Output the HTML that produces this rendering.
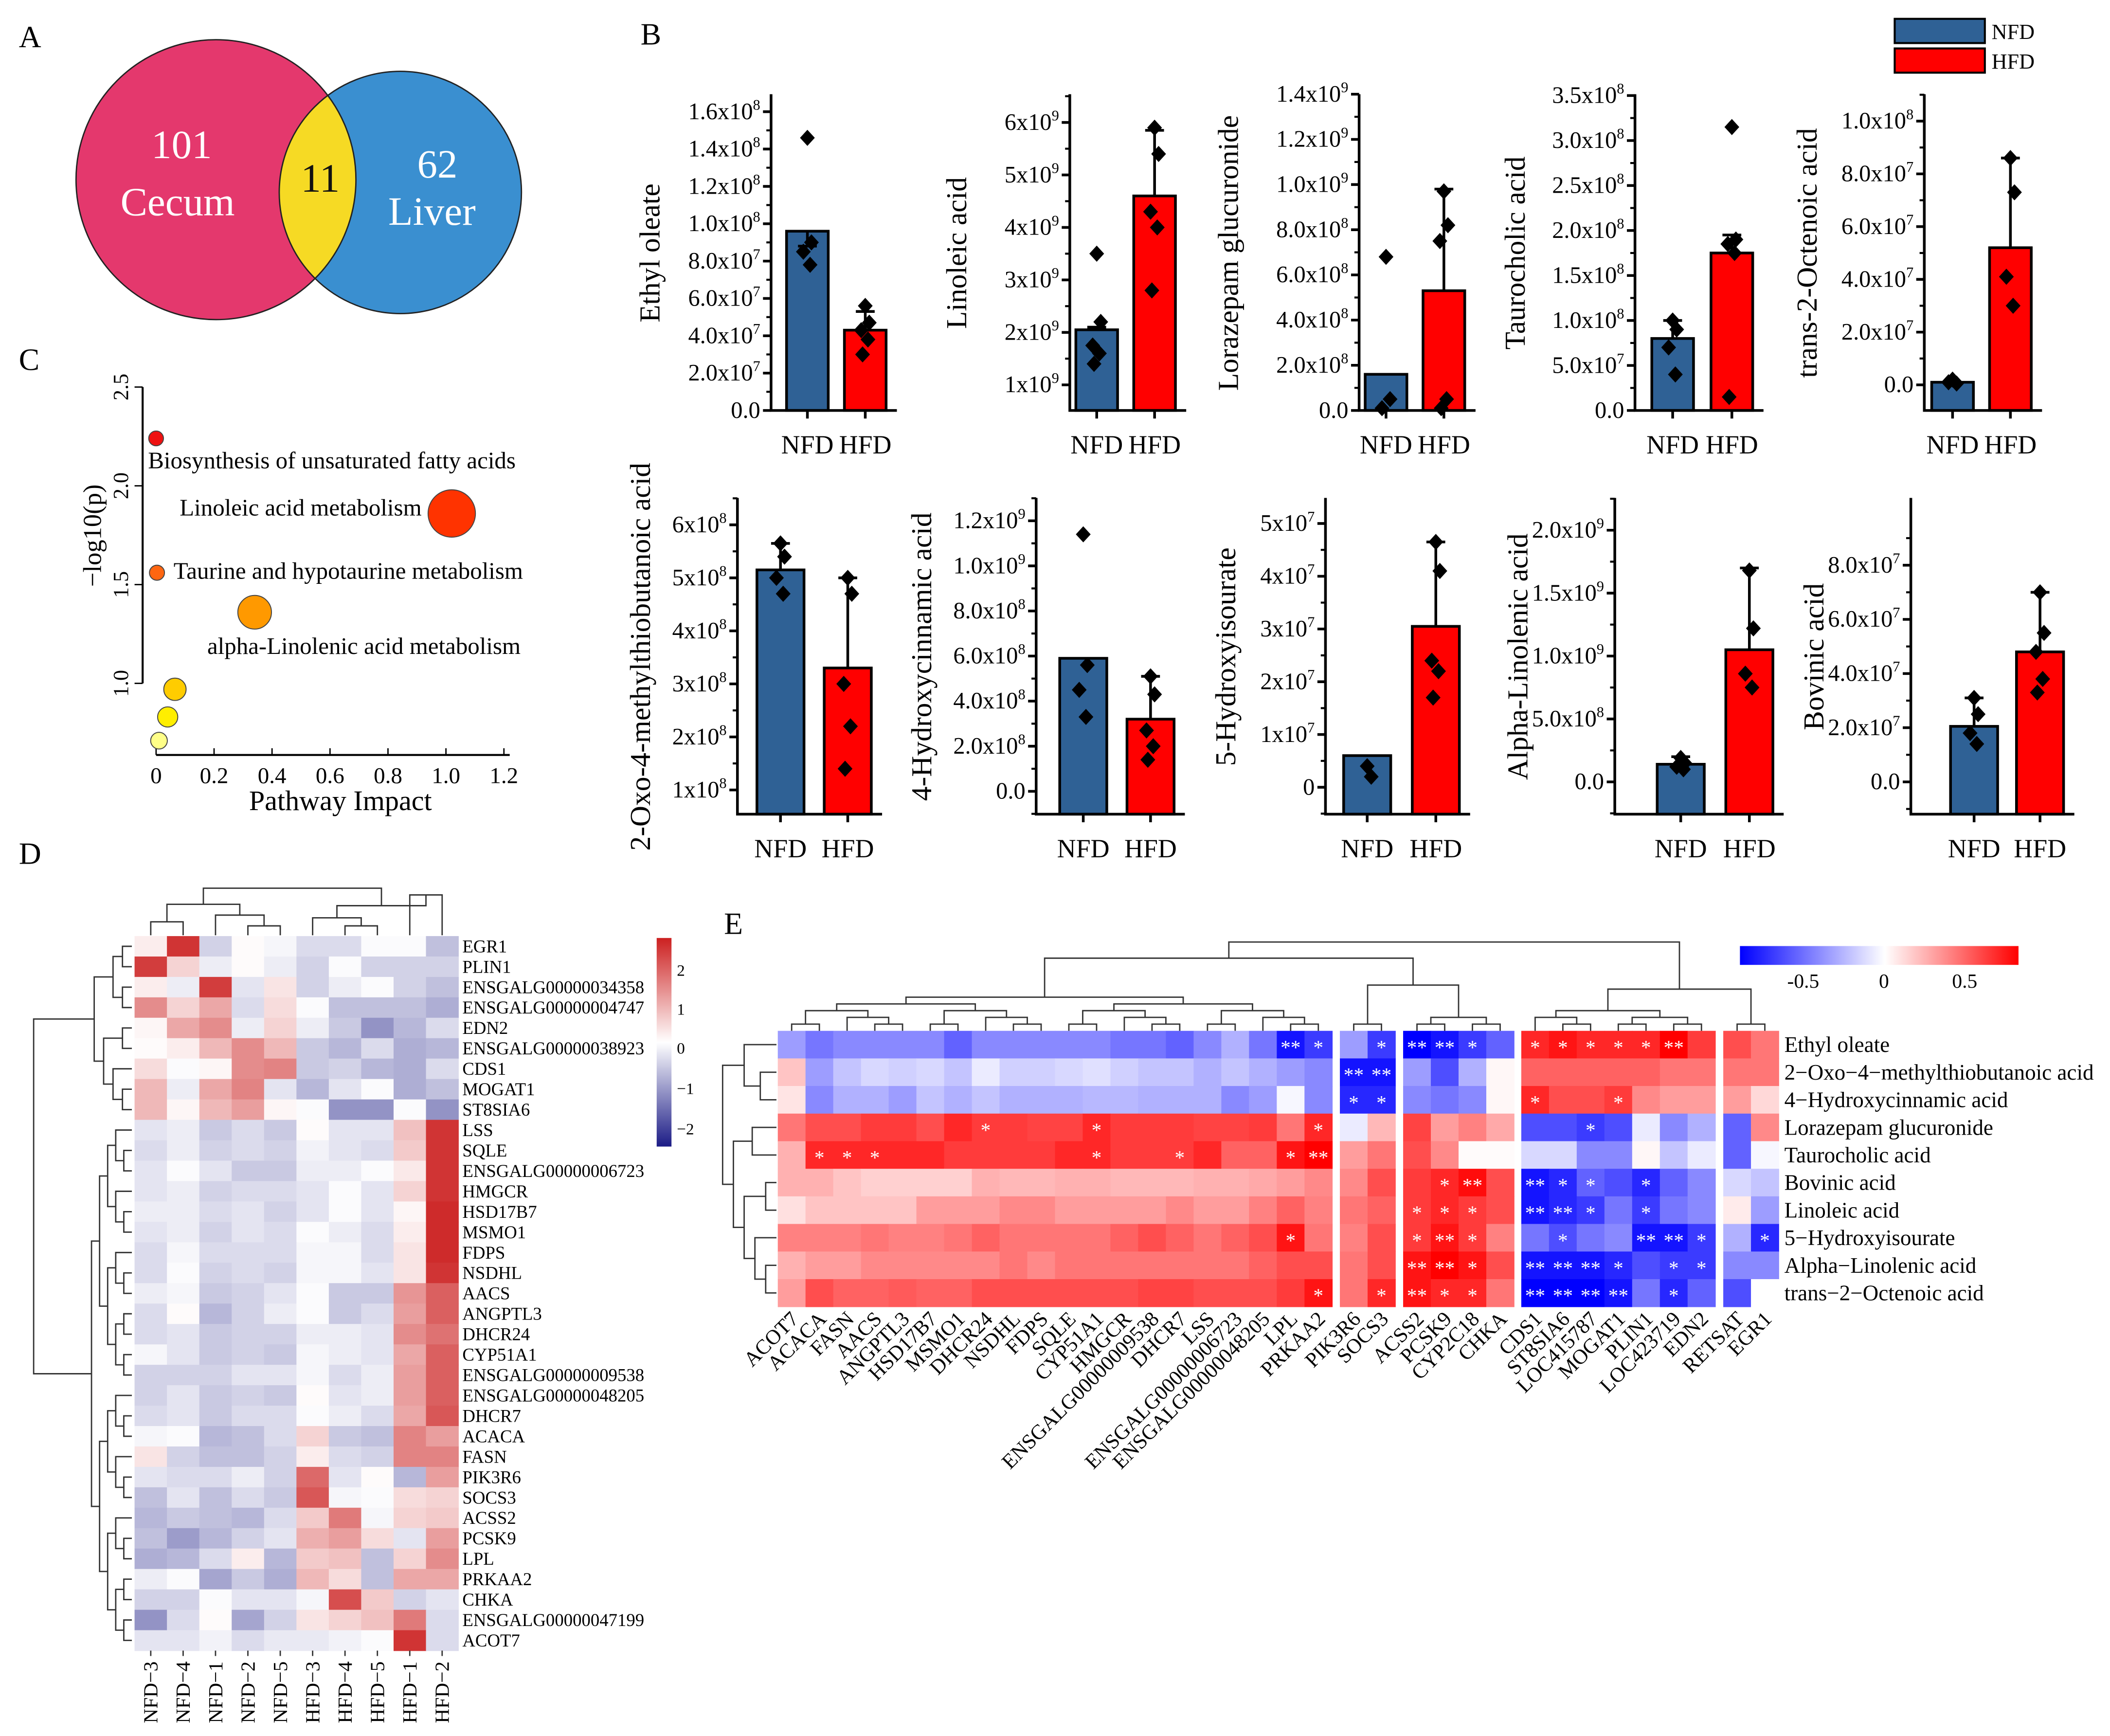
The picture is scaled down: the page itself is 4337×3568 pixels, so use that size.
<!DOCTYPE html>
<html><head><meta charset="utf-8">
<style>
body{margin:0;background:#fff}
svg{display:block}
text{font-family:"Liberation Serif",serif;fill:#000}
</style></head>
<body>
<svg id="fig" width="4337" height="3568" viewBox="0 0 1568 1290" preserveAspectRatio="none" xmlns="http://www.w3.org/2000/svg">
<defs>
<clipPath id="clipRed"><circle cx="160.5" cy="133.5" r="104"/></clipPath>
<linearGradient id="gradD" x1="0" y1="1" x2="0" y2="0">
<stop offset="0" stop-color="#1c1c86"/><stop offset="0.5" stop-color="#ffffff"/><stop offset="1" stop-color="#cc2020"/>
</linearGradient>
<linearGradient id="gradE" x1="0" y1="0" x2="1" y2="0">
<stop offset="0" stop-color="#0000ff"/><stop offset="0.52" stop-color="#ffffff"/><stop offset="1" stop-color="#ff0000"/>
</linearGradient>
</defs>
<rect x="0" y="0" width="1568" height="1290" fill="#fff"/>
<text x="14" y="35" font-size="23">A</text>
<text x="476" y="33" font-size="23">B</text>
<text x="14" y="275" font-size="23">C</text>
<text x="14" y="642" font-size="23">D</text>
<text x="538" y="694" font-size="23">E</text>
<g>
<circle cx="160.5" cy="133.5" r="104" fill="#e4386d"/>
<circle cx="297.5" cy="143" r="90" fill="#3a8fd0"/>
<circle cx="297.5" cy="143" r="90" fill="#f6da24" clip-path="url(#clipRed)"/>
<circle cx="160.5" cy="133.5" r="104" fill="none" stroke="#222" stroke-width="1"/>
<circle cx="297.5" cy="143" r="90" fill="none" stroke="#222" stroke-width="1"/>
<text x="135" y="117.5" font-size="30" text-anchor="middle" style="fill:#fff">101</text>
<text x="132" y="160" font-size="30" text-anchor="middle" style="fill:#fff">Cecum</text>
<text x="238" y="142.5" font-size="30" text-anchor="middle" style="fill:#111">11</text>
<text x="325" y="132" font-size="30" text-anchor="middle" style="fill:#fff">62</text>
<text x="321" y="167" font-size="30" text-anchor="middle" style="fill:#fff">Liver</text>
</g>
<g>
<rect x="1408" y="14" width="67" height="18" fill="#2f6195" stroke="#000" stroke-width="1.5"/>
<text x="1480" y="29" font-size="16">NFD</text>
<rect x="1408" y="36" width="67" height="18" fill="#ff0000" stroke="#000" stroke-width="1.5"/>
<text x="1480" y="51" font-size="16">HFD</text>
</g>
<g id="panelC">
<text x="110" y="348" font-size="17.7">Biosynthesis of unsaturated fatty acids</text>
<text x="133.5" y="383" font-size="17.7">Linoleic acid metabolism</text>
<text x="129" y="430" font-size="17.7">Taurine and hypotaurine metabolism</text>
<text x="154" y="486" font-size="17.7">alpha-Linolenic acid metabolism</text>
<text x="253" y="602" font-size="21" text-anchor="middle">Pathway Impact</text>
<text x="0" y="0" font-size="19" text-anchor="middle" transform="translate(75,398) rotate(-90)">−log10(p)</text>
</g>
<g id="panelB"></g>
<g id="panelD">
<rect x="488" y="697" width="11" height="155" fill="url(#gradD)"/>
<text x="503" y="725" font-size="12">2</text>
<text x="503" y="754" font-size="12">1</text>
<text x="503" y="783" font-size="12">0</text>
<text x="503" y="813" font-size="12">−1</text>
<text x="503" y="843" font-size="12">−2</text>
</g>
<g id="panelE">
<rect x="1293" y="703" width="207" height="14" fill="url(#gradE)"/>
<text x="1340" y="734" font-size="15" text-anchor="middle">-0.5</text>
<text x="1400" y="734" font-size="15" text-anchor="middle">0</text>
<text x="1460" y="734" font-size="15" text-anchor="middle">0.5</text>
</g>
</svg>
<script>
// ===== Panel B data =====
const metabNames = ["Ethyl oleate","Linoleic acid","Lorazepam glucuronide","Taurocholic acid","trans-2-Octenoic acid","2-Oxo-4-methylthiobutanoic acid","4-Hydroxycinnamic acid","5-Hydroxyisourate","Alpha-Linolenic acid","Bovinic acid"];
const groupLabels = ["NFD","HFD"];
const nfdMean = [9.6e7,2.05e9,1.6e8,8.0e7,0.1e7,5.15e8,5.9e8,0.6e7,1.4e8,2.05e7];
const hfdMean = [4.3e7,4.6e9,5.3e8,1.75e8,5.2e7,3.3e8,3.2e8,3.05e7,1.05e9,4.8e7];
const nfdErrEnd = [8.8e7,2.1e9,1.6e8,1.0e8,0.1e7,5.65e8,5.9e8,0.6e7,2.0e8,3.1e7];
const hfdErrEnd = [5.3e7,5.85e9,9.8e8,1.95e8,8.6e7,5.0e8,5.1e8,4.65e7,1.7e9,7.0e7];
const nfdPts = [[1.46e8,9.0e7,8.5e7,7.8e7],[3.5e9,2.2e9,1.75e9,1.6e9,1.4e9],[6.8e8,5e7,1e7],[1.0e8,9e7,7e7,4e7],[0.2e7,0.05e7,0.1e7],[5.65e8,5.4e8,5.0e8,4.7e8],[1.14e9,5.6e8,4.5e8,3.3e8],[0.4e7,0.2e7],[1.9e8,1.5e8,1.2e8,1.0e8],[3.1e7,2.5e7,1.8e7,1.4e7]];
const hfdPts = [[5.6e7,4.7e7,4.3e7,3.8e7,3.0e7],[5.9e9,5.4e9,4.3e9,4.0e9,2.8e9],[9.7e8,8.2e8,7.5e8,5e7,1e7],[3.15e8,1.9e8,1.85e8,1.75e8,0.15e8],[8.6e7,7.3e7,4.1e7,3.0e7],[5.0e8,4.7e8,3.0e8,2.2e8,1.4e8],[5.1e8,4.3e8,2.7e8,2.0e8,1.4e8],[4.65e7,4.1e7,2.4e7,2.2e7,1.7e7],[1.68e9,1.22e9,8.6e8,7.5e8],[7.0e7,5.5e7,4.8e7,3.8e7,3.3e7]];
const tickVals = [[0,2e7,4e7,6e7,8e7,1e8,1.2e8,1.4e8,1.6e8],[1e9,2e9,3e9,4e9,5e9,6e9],[0,2e8,4e8,6e8,8e8,1e9,1.2e9,1.4e9],[0,5e7,1e8,1.5e8,2e8,2.5e8,3e8,3.5e8],[0,2e7,4e7,6e7,8e7,1e8],[1e8,2e8,3e8,4e8,5e8,6e8],[0,2e8,4e8,6e8,8e8,1e9,1.2e9],[0,1e7,2e7,3e7,4e7,5e7],[0,5e8,1e9,1.5e9,2e9],[0,2e7,4e7,6e7,8e7]];
const tickLabels = [["0.0","2.0x10|7","4.0x10|7","6.0x10|7","8.0x10|7","1.0x10|8","1.2x10|8","1.4x10|8","1.6x10|8"],["1x10|9","2x10|9","3x10|9","4x10|9","5x10|9","6x10|9"],["0.0","2.0x10|8","4.0x10|8","6.0x10|8","8.0x10|8","1.0x10|9","1.2x10|9","1.4x10|9"],["0.0","5.0x10|7","1.0x10|8","1.5x10|8","2.0x10|8","2.5x10|8","3.0x10|8","3.5x10|8"],["0.0","2.0x10|7","4.0x10|7","6.0x10|7","8.0x10|7","1.0x10|8"],["1x10|8","2x10|8","3x10|8","4x10|8","5x10|8","6x10|8"],["0.0","2.0x10|8","4.0x10|8","6.0x10|8","8.0x10|8","1.0x10|9","1.2x10|9"],["0","1x10|7","2x10|7","3x10|7","4x10|7","5x10|7"],["0.0","5.0x10|8","1.0x10|9","1.5x10|9","2.0x10|9"],["0.0","2.0x10|7","4.0x10|7","6.0x10|7","8.0x10|7"]];
const tickPix0 = [305,286,305,305,286,587,588,585,581,581];
const tickPix1 = [83,91,70,71,90,390,387,389,394,420];

// ===== Panel C data =====
const pathwayImpact = [0,1.02,0.003,0.34,0.065,0.04,0.01];
const negLogP = [2.24,1.86,1.56,1.36,0.97,0.83,0.71];
const bubbleSize = [5.5,17.6,5.6,12.5,8.3,7.5,6.2];
const bubbleColor = ["#ee1111","#ff3300","#ff6611","#ff9900","#ffcc00","#ffee00","#ffff88"];
const xTicksC = [0,0.2,0.4,0.6,0.8,1.0,1.2];
const xTickLabelsC = ["0","0.2","0.4","0.6","0.8","1.0","1.2"];
const yTicksC = [1.0,1.5,2.0,2.5];
const yTickLabelsC = ["1.0","1.5","2.0","2.5"];

// ===== Panel D data =====
const genesD = ["EGR1","PLIN1","ENSGALG00000034358","ENSGALG00000004747","EDN2","ENSGALG00000038923","CDS1","MOGAT1","ST8SIA6","LSS","SQLE","ENSGALG00000006723","HMGCR","HSD17B7","MSMO1","FDPS","NSDHL","AACS","ANGPTL3","DHCR24","CYP51A1","ENSGALG00000009538","ENSGALG00000048205","DHCR7","ACACA","FASN","PIK3R6","SOCS3","ACSS2","PCSK9","LPL","PRKAA2","CHKA","ENSGALG00000047199","ACOT7"];
const samplesD = ["NFD−3","NFD−4","NFD−1","NFD−2","NFD−5","HFD−3","HFD−4","HFD−5","HFD−1","HFD−2"];
const valuesD = [
[0.2,2.3,-0.5,0.05,-0.1,-0.4,-0.4,-0.05,-0.05,-0.7],
[2.2,0.5,-0.2,0.05,-0.2,-0.5,-0.05,-0.5,-0.5,-0.5],
[0.2,-0.2,2.2,-0.3,0.3,-0.5,-0.2,-0.05,-0.5,-0.7],
[1.3,0.5,1.0,-0.4,0.4,-0.05,-0.7,-0.7,-0.7,-0.9],
[0.1,1.0,1.3,-0.2,0.5,-0.2,-0.6,-1.2,-0.8,-0.4],
[0.05,0.2,0.8,1.3,0.8,-0.6,-0.8,-0.4,-0.9,-0.8],
[0.4,-0.05,0.1,1.3,1.4,-0.6,-0.5,-0.8,-0.9,-0.4],
[0.8,-0.2,1.0,1.4,-0.3,-0.8,-0.3,-0.05,-0.9,-0.7],
[0.8,0.1,0.8,1.1,0.1,-0.05,-1.2,-1.2,-0.05,-1.2],
[-0.3,-0.2,-0.6,-0.4,-0.6,0.05,-0.3,-0.3,0.7,2.3],
[-0.4,-0.2,-0.5,-0.4,-0.5,-0.15,-0.3,-0.4,0.6,2.3],
[-0.3,-0.05,-0.3,-0.6,-0.6,-0.2,-0.2,-0.05,0.25,2.3],
[-0.3,-0.2,-0.5,-0.4,-0.4,-0.3,-0.05,-0.3,0.5,2.3],
[-0.2,-0.2,-0.4,-0.3,-0.5,-0.3,-0.05,-0.3,0.1,2.4],
[-0.3,-0.2,-0.5,-0.3,-0.4,-0.05,-0.2,-0.4,0.2,2.4],
[-0.4,-0.1,-0.4,-0.4,-0.4,-0.1,-0.1,-0.4,0.3,2.4],
[-0.4,-0.05,-0.5,-0.4,-0.5,-0.1,-0.1,-0.3,0.3,2.3],
[-0.2,-0.1,-0.6,-0.5,-0.3,-0.05,-0.6,-0.6,1.2,1.8],
[-0.4,0.05,-0.8,-0.5,-0.2,-0.05,-0.6,-0.4,1.1,1.8],
[-0.4,-0.3,-0.6,-0.5,-0.5,-0.2,-0.2,-0.3,1.3,1.6],
[-0.1,-0.3,-0.6,-0.5,-0.6,-0.1,-0.2,-0.3,1.0,1.8],
[-0.5,-0.5,-0.5,-0.3,-0.3,-0.1,-0.4,-0.2,1.1,1.8],
[-0.5,-0.3,-0.6,-0.5,-0.6,0.05,-0.3,-0.2,1.1,1.8],
[-0.4,-0.3,-0.6,-0.4,-0.4,-0.05,-0.2,-0.4,1.0,1.9],
[-0.1,-0.05,-0.8,-0.7,-0.4,0.5,-0.6,-0.7,1.4,1.1],
[0.3,-0.5,-0.7,-0.7,-0.5,0.2,-0.4,-0.5,1.4,1.4],
[-0.3,-0.4,-0.4,-0.2,-0.5,1.7,-0.3,0.05,-0.8,1.1],
[-0.7,-0.3,-0.7,-0.4,-0.6,1.9,-0.1,-0.05,0.4,0.5],
[-0.8,-0.6,-0.7,-0.8,-0.4,0.6,1.5,-0.1,0.5,0.6],
[-0.7,-1.1,-0.8,-0.5,-0.3,0.9,1.1,0.4,-0.3,1.1],
[-0.9,-0.8,-0.4,0.2,-0.8,0.6,0.7,-0.7,0.5,1.3],
[-0.2,-0.05,-1.0,-0.6,-0.9,0.8,0.4,-0.7,1.0,1.0],
[-0.5,-0.5,-0.05,-0.3,-0.3,-0.1,2.0,0.6,-0.5,-0.3],
[-1.2,-0.4,0.05,-1.0,-0.5,0.3,0.5,0.7,1.5,-0.4],
[-0.3,-0.3,-0.15,-0.4,-0.25,-0.25,-0.15,-0.05,2.3,-0.4]];

// ===== Panel E data =====
const genesE = ["ACOT7","ACACA","FASN","AACS","ANGPTL3","HSD17B7","MSMO1","DHCR24","NSDHL","FDPS","SQLE","CYP51A1","HMGCR","ENSGALG00000009538","DHCR7","LSS","ENSGALG00000006723","ENSGALG00000048205","LPL","PRKAA2","PIK3R6","SOCS3","ACSS2","PCSK9","CYP2C18","CHKA","CDS1","ST8SIA6","LOC415787","MOGAT1","PLIN1","LOC423719","EDN2","RETSAT","EGR1"];
const metabE = ["Ethyl oleate","2−Oxo−4−methylthiobutanoic acid","4−Hydroxycinnamic acid","Lorazepam glucuronide","Taurocholic acid","Bovinic acid","Linoleic acid","5−Hydroxyisourate","Alpha−Linolenic acid","trans−2−Octenoic acid"];
const corrE = [
[-0.25,-0.35,-0.3,-0.3,-0.3,-0.3,-0.4,-0.3,-0.3,-0.3,-0.3,-0.3,-0.35,-0.35,-0.4,-0.3,-0.2,-0.35,-0.6,-0.5, -0.25,-0.5, -0.65,-0.6,-0.5,-0.4, 0.55,0.6,0.55,0.55,0.55,0.65,0.5, 0.45,0.35],
[0.15,-0.25,-0.15,-0.1,-0.12,-0.1,-0.15,-0.05,-0.12,-0.12,-0.1,-0.08,-0.12,-0.15,-0.15,-0.2,-0.15,-0.2,-0.25,-0.3, -0.6,-0.6, -0.25,-0.45,-0.2,0.02, 0.4,0.4,0.4,0.4,0.4,0.35,0.35, 0.35,0.35],
[0.07,-0.3,-0.2,-0.2,-0.25,-0.15,-0.2,-0.15,-0.2,-0.2,-0.2,-0.18,-0.18,-0.2,-0.2,-0.2,-0.3,-0.25,-0.02,-0.3, -0.55,-0.55, -0.3,-0.35,-0.3,0.02, 0.55,0.45,0.45,0.5,0.3,0.25,0.25, 0.25,0.1],
[0.35,0.45,0.45,0.5,0.5,0.45,0.55,0.5,0.5,0.48,0.48,0.55,0.5,0.5,0.5,0.48,0.48,0.5,0.35,0.55, -0.05,0.18, 0.48,0.25,0.32,0.22, -0.45,-0.45,-0.5,-0.45,-0.05,-0.3,-0.2, -0.4,0.3],
[0.2,0.55,0.55,0.55,0.55,0.55,0.5,0.5,0.5,0.5,0.55,0.55,0.5,0.5,0.5,0.55,0.4,0.4,0.6,0.65, 0.25,0.35, 0.45,0.3,0.01,0.01, -0.1,-0.1,-0.3,-0.3,0.02,-0.15,-0.05, -0.4,-0.02],
[0.2,0.2,0.15,0.12,0.12,0.12,0.12,0.2,0.18,0.18,0.2,0.2,0.18,0.18,0.18,0.2,0.2,0.22,0.25,0.3, 0.3,0.45, 0.5,0.55,0.62,0.45, -0.6,-0.55,-0.4,-0.45,-0.55,-0.4,-0.3, -0.1,-0.15],
[0.08,0.15,0.15,0.15,0.15,0.25,0.25,0.25,0.3,0.3,0.25,0.25,0.25,0.25,0.3,0.25,0.25,0.32,0.4,0.32, 0.35,0.4, 0.5,0.55,0.5,0.45, -0.6,-0.55,-0.5,-0.35,-0.5,-0.35,-0.3, 0.05,-0.25],
[0.32,0.32,0.32,0.35,0.32,0.32,0.35,0.4,0.35,0.35,0.35,0.35,0.4,0.45,0.4,0.35,0.4,0.45,0.6,0.35, 0.32,0.45, 0.5,0.6,0.5,0.32, -0.35,-0.45,-0.35,-0.3,-0.6,-0.6,-0.5, -0.2,-0.55],
[0.2,0.25,0.25,0.3,0.3,0.3,0.3,0.3,0.35,0.3,0.35,0.35,0.35,0.35,0.35,0.35,0.35,0.4,0.45,0.45, 0.35,0.45, 0.6,0.65,0.6,0.45, -0.6,-0.6,-0.6,-0.55,-0.45,-0.5,-0.5, -0.3,-0.3],
[0.25,0.45,0.4,0.4,0.42,0.4,0.4,0.45,0.45,0.45,0.45,0.45,0.45,0.48,0.48,0.45,0.45,0.45,0.5,0.6, 0.35,0.55, 0.6,0.55,0.55,0.35, -0.65,-0.65,-0.65,-0.6,-0.35,-0.55,-0.4, -0.45,0.0]];
const starsE = [[0,18,2],[0,19,1],[0,21,1],[0,22,2],[0,23,2],[0,24,1],[0,26,1],[0,27,1],[0,28,1],[0,29,1],[0,30,1],[0,31,2],
[1,20,2],[1,21,2],[2,20,1],[2,21,1],[2,26,1],[2,29,1],
[3,7,1],[3,11,1],[3,19,1],[3,28,1],
[4,1,1],[4,2,1],[4,3,1],[4,11,1],[4,14,1],[4,18,1],[4,19,2],
[5,23,1],[5,24,2],[5,26,2],[5,27,1],[5,28,1],[5,30,1],
[6,22,1],[6,23,1],[6,24,1],[6,26,2],[6,27,2],[6,28,1],[6,30,1],
[7,18,1],[7,22,1],[7,23,2],[7,24,1],[7,27,1],[7,30,2],[7,31,2],[7,32,1],[7,34,1],
[8,22,2],[8,23,2],[8,24,1],[8,26,2],[8,27,2],[8,28,2],[8,29,1],[8,31,1],[8,32,1],
[9,19,1],[9,21,1],[9,22,2],[9,23,1],[9,24,1],[9,26,2],[9,27,2],[9,28,2],[9,29,2],[9,31,1]];
const groupSizesE = [20,2,4,7,2];

const NS = 'http://www.w3.org/2000/svg';
function mk(tag, attrs, parent){const e=document.createElementNS(NS,tag);for(const k in attrs)e.setAttribute(k,attrs[k]);parent.appendChild(e);return e;}
function txt(s, attrs, parent){const e=mk('text',attrs,parent);e.textContent=s;return e;}
function sciLabel(lbl, attrs, parent){
  const parts = lbl.split('|');
  const t = mk('text', attrs, parent);
  t.appendChild(document.createTextNode(parts[0]));
  if(parts.length>1){const sp=document.createElementNS(NS,'tspan');sp.setAttribute('dy','-7');sp.setAttribute('font-size','11');sp.textContent=parts[1];t.appendChild(sp);}
  return t;
}

// ===== Draw Panel B =====
(function(){
  const gB = document.getElementById('panelB');
  const axX = [573,795,1010,1215,1430,548,770,985,1200,1420];
  const cN = [600,815,1030,1243,1451,580,805,1016,1249,1467];
  const cH = [643,858,1073,1287,1494,630,855,1067,1300,1516];
  const titleX = [490,718,920,1133,1350,483,692,918,1135,1355];
  const jit = [0,3,-3,2,-2];
  for(let i=0;i<10;i++){
    const row = i<5?0:1;
    const baseY = row?605:305, topY = row?370:70, bw = row?35:31;
    const tv = tickVals[i];
    const v0 = tv[0], v1 = tv[tv.length-1];
    const y = v => tickPix0[i] + (v - v0)*(tickPix1[i]-tickPix0[i])/(v1-v0);
    const g = mk('g',{},gB);
    
    
    [[nfdMean[i],cN[i],'#2f6195',nfdErrEnd[i],nfdPts[i],'nfd'],[hfdMean[i],cH[i],'#ff0000',hfdErrEnd[i],hfdPts[i],'hfd']].forEach(b=>{
      const yt = Math.min(y(b[0]), baseY);
      const r = mk('rect',{x:b[1]-bw/2,y:yt,width:bw,height:Math.max(baseY-yt,0.5),fill:b[2],stroke:'#000','stroke-width':2},g);
      
      
      if(Math.abs(b[3]-b[0])>0){
        const ye = y(b[3]);
        const e = mk('path',{d:`M${b[1]},${yt}V${ye}M${b[1]-7},${ye}H${b[1]+7}`,stroke:'#000','stroke-width':2,fill:'none'},g);
        
        
      }
      b[4].forEach((p,k)=>{
        const px=b[1]+jit[k%5], py=y(p);
        const d = mk('polygon',{points:`${px},${py-6} ${px+5.5},${py} ${px},${py+6} ${px-5.5},${py}`,fill:'#000'},g);
        
        
      });
    });
    const ax = mk('path',{d:`M${axX[i]},${topY}V${baseY}H${cH[i]+bw/2+8}`,stroke:'#000','stroke-width':2,fill:'none'},g);
    
    
    [cN[i],cH[i]].forEach((cx,k)=>{
      mk('line',{x1:cx,y1:baseY,x2:cx,y2:baseY+6,stroke:'#000','stroke-width':2},g);
      const l = txt(groupLabels[k],{x:cx,y:baseY+32,'font-size':19.5,'text-anchor':'middle'},g);
      
      
    });
    const step = tv[1]-tv[0];
    for(let k=0;k<tv.length;k++){
      const ty = y(tv[k]);
      mk('line',{x1:axX[i]-6,y1:ty,x2:axX[i],y2:ty,stroke:'#000','stroke-width':2},g);
      const my = y(tv[k]+step/2);
      if(my>topY) mk('line',{x1:axX[i]-3.5,y1:my,x2:axX[i],y2:my,stroke:'#000','stroke-width':1.5},g);
      const myb = y(tv[k]-step/2);
      if(k==0 && myb<baseY) mk('line',{x1:axX[i]-3.5,y1:myb,x2:axX[i],y2:myb,stroke:'#000','stroke-width':1.5},g);
      const tl = sciLabel(tickLabels[i][k],{x:axX[i]-8,y:ty+5.5,'font-size':17.5,'text-anchor':'end'},g);
      
      
    }
    const ty = txt(metabNames[i],{x:0,y:0,'font-size':21.5,'text-anchor':'middle',transform:`translate(${titleX[i]},${row?488:188}) rotate(-90)`},g);
    
    
  }
})();

// ===== Draw Panel C =====
(function(){
  const g = document.getElementById('panelC');
  const x = v => 116 + v*215.4;
  const y = v => 507.8 - (v-1)*146.8;
  mk('path',{d:`M106,${y(2.5)}V${y(1.0)}`,stroke:'#000','stroke-width':1.5,fill:'none'},g);
  mk('path',{d:`M${x(0)},561H${x(1.22)}`,stroke:'#000','stroke-width':1.5,fill:'none'},g);
  xTicksC.forEach((v,k)=>{
    mk('line',{x1:x(v),y1:561,x2:x(v),y2:556,stroke:'#000'},g);
    const t = txt(xTickLabelsC[k],{x:x(v),y:582,'font-size':17,'text-anchor':'middle'},g);
    
    
  });
  yTicksC.forEach((v,k)=>{
    mk('line',{x1:100,y1:y(v),x2:106,y2:y(v),stroke:'#000'},g);
    const t = txt(yTickLabelsC[k],{x:0,y:0,'font-size':16,'text-anchor':'middle',transform:`translate(95,${y(v)}) rotate(-90)`},g);
    
    
  });
  pathwayImpact.forEach((v,k)=>{
    const c = mk('circle',{cx:x(v),cy:y(negLogP[k]),r:bubbleSize[k],fill:bubbleColor[k],stroke:'#444','stroke-width':0.7},g);
    
    
  });
})();

function tree(parent, pos, a, b, base, unit, dir, vertical){
  if(b-a===1) return {c:pos[a], h:base};
  const m = (a+b)>>1;
  const L = tree(parent,pos,a,m,base,unit,dir,vertical);
  const R = tree(parent,pos,m,b,base,unit,dir,vertical);
  const h = dir<0 ? Math.min(L.h,R.h)-unit : Math.max(L.h,R.h)+unit;
  const d = vertical ? `M${L.c},${L.h}V${h}H${R.c}V${R.h}` : `M${L.h},${L.c}H${h}V${R.c}H${R.h}`;
  mk('path',{d:d,stroke:'#333','stroke-width':1,fill:'none'},parent);
  return {c:(L.c+R.c)/2, h:h};
}
function join(parent,L,R,h,vertical){
  const d = vertical ? `M${L.c},${L.h}V${h}H${R.c}V${R.h}` : `M${L.h},${L.c}H${h}V${R.c}H${R.h}`;
  mk('path',{d:d,stroke:'#333','stroke-width':1,fill:'none'},parent);
  return {c:(L.c+R.c)/2,h:h};
}

// ===== Draw Panel D =====
(function(){
  const g = document.getElementById('panelD');
  const x0=100, y0=695.6, cw=24.06, rh=15.17;
  const col = v => {
    const t = Math.min(Math.abs(v)/2.5,1);
    const tgt = v>=0 ? [204,34,34] : [30,30,135];
    return `rgb(${Math.round(255+(tgt[0]-255)*t)},${Math.round(255+(tgt[1]-255)*t)},${Math.round(255+(tgt[2]-255)*t)})`;
  };
  valuesD.forEach((row,r)=>{
    row.forEach((v,c)=>{
      const cell = mk('rect',{x:x0+c*cw,y:y0+r*rh,width:cw+0.3,height:rh+0.3,fill:col(v)},g);
      
      
    });
    const l = txt(genesD[r],{x:x0+10*cw+3,y:y0+r*rh+rh/2+4.5,'font-size':13.3},g);
    
    
  });
  samplesD.forEach((s,c)=>{
    const cx = x0+c*cw+cw/2;
    mk('line',{x1:cx,y1:y0+35*rh,x2:cx,y2:y0+35*rh+4,stroke:'#333'},g);
    const l = txt(s,{x:0,y:0,'font-size':15,'text-anchor':'end',transform:`translate(${cx+5},${y0+35*rh+8}) rotate(-90)`},g);
    
    
  });
  const dg = mk('g',{},g);
  
  
  const cx = i => x0+i*cw+cw/2, B=695;
  const a = join(dg,{c:cx(0),h:B},{c:cx(1),h:B},685,true);
  const b = join(dg,{c:cx(3),h:B},{c:cx(4),h:B},688,true);
  const c2 = join(dg,{c:cx(2),h:B},b,680,true);
  const left = join(dg,a,c2,672,true);
  const d = join(dg,{c:cx(6),h:B},{c:cx(7),h:B},688,true);
  const e = join(dg,{c:cx(5),h:B},d,682,true);
  const f = join(dg,{c:cx(8),h:B},{c:cx(9),h:B},665,true);
  const right = join(dg,e,f,673,true);
  join(dg,left,right,660,true);
  const lg = mk('g',{},g);
  
  
  const rp = genesD.map((_,i)=>y0+i*rh+rh/2);
  const T1 = tree(lg,rp,0,9,98,7,-1,false);
  const T2 = tree(lg,rp,9,35,98,6,-1,false);
  join(lg,T1,T2,25,false);
})();

// ===== Draw Panel E =====
(function(){
  const g = document.getElementById('panelE');
  const gStart = [578,995.7,1042.7,1130.5,1280.6];
  const cw = 20.6, y0 = 766, rh = 20.5;
  const colX = [];
  groupSizesE.forEach((n,gi)=>{for(let k=0;k<n;k++) colX.push(gStart[gi]+k*cw);});
  const col = v => {
    const t = Math.min(Math.abs(v)/0.65,1);
    return v>=0 ? `rgb(255,${Math.round(255*(1-t))},${Math.round(255*(1-t))})` : `rgb(${Math.round(255*(1-t))},${Math.round(255*(1-t))},255)`;
  };
  corrE.forEach((row,r)=>{
    row.forEach((v,c)=>{
      const cell = mk('rect',{x:colX[c],y:y0+r*rh,width:cw+0.3,height:rh+0.3,fill:col(v)},g);
      
      
    });
    const l = txt(metabE[r],{x:1326,y:y0+r*rh+rh/2+5.5,'font-size':16.3},g);
    
    
  });
  starsE.forEach(s=>{
    const st = txt('*'.repeat(s[2]),{x:colX[s[1]]+cw/2,y:y0+s[0]*rh+rh/2+7,'font-size':15,'text-anchor':'middle',style:'fill:#fff'},g);
    
    
  });
  genesE.forEach((n,c)=>{
    const cx = colX[c]+cw/2;
    const l = txt(n,{x:0,y:0,'font-size':15.5,'text-anchor':'end',transform:`translate(${cx+6},${y0+10*rh+10}) rotate(-45)`},g);
    
    
  });
  const dg = mk('g',{},g);
  
  
  const cpos = colX.map(x=>x+cw/2);
  let idx=0; const subs=[];
  groupSizesE.forEach(n=>{subs.push(tree(dg,cpos,idx,idx+n,766,5,-1,true)); idx+=n;});
  const s23 = join(dg,subs[1],subs[2],732,true);
  const s45 = join(dg,subs[3],subs[4],735,true);
  const s123 = join(dg,subs[0],s23,712,true);
  join(dg,s123,s45,700,true);
  const lg = mk('g',{},g);
  
  
  const rp = metabE.map((_,i)=>y0+i*rh+rh/2);
  const A = tree(lg,rp,0,3,577,12,-1,false);
  const Bt = tree(lg,rp,3,5,577,18,-1,false);
  const C = tree(lg,rp,5,10,577,8,-1,false);
  const BC = join(lg,Bt,C,545,false);
  join(lg,A,BC,537,false);
})();
</script>
</body></html>
